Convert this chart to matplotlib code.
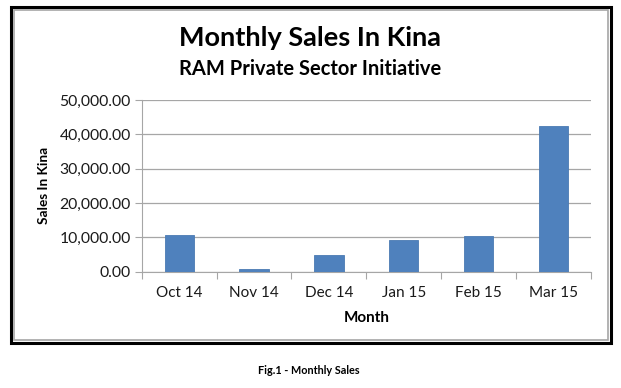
import matplotlib.pyplot as plt
from matplotlib.patches import Rectangle
from matplotlib.ticker import FuncFormatter

meses = ['Oct 14', 'Nov 14', 'Dec 14', 'Jan 15', 'Feb 15', 'Mar 15']
vendas = [10800, 850, 4850, 9150, 10400, 42300]

plt.rcParams['font.family'] = ['Lato', 'DejaVu Sans']

W, H = 621, 388
fig = plt.figure(figsize=(W / 100, H / 100), dpi=100)

# moldura dupla (preta por fora, cinza por dentro)
fig.patches.append(Rectangle((11 / W, 1 - 343 / H), 600 / W, 336 / H,
                             transform=fig.transFigure, fill=False,
                             edgecolor='black', linewidth=2.2))
fig.patches.append(Rectangle((14 / W, 1 - 340 / H), 594 / W, 330 / H,
                             transform=fig.transFigure, fill=False,
                             edgecolor='#a6a6a6', linewidth=1.2))

ax = fig.add_axes([141.7 / W, 1 - 271.7 / H, (591 - 141.7) / W, (271.7 - 100) / H])

x = list(range(len(meses)))
ax.bar(x, vendas, width=0.39, color='#4f81bd', edgecolor='#4a7ab3', linewidth=0.6, zorder=3)

ax.set_xlim(-0.5, len(meses) - 0.5)
ax.set_ylim(0, 50000)
ax.set_yticks([0, 10000, 20000, 30000, 40000, 50000])
ax.yaxis.set_major_formatter(FuncFormatter(lambda v, p: f'{v:,.2f}'))
ax.grid(axis='y', color='#a6a6a6', linewidth=0.9, zorder=0)

ax.set_xticks([i - 0.5 for i in range(len(meses) + 1)])
ax.set_xticklabels([])
ax.set_xticks(x, minor=True)
ax.set_xticklabels(meses, minor=True)
ax.tick_params(axis='x', which='major', length=5, color='#a6a6a6', direction='out')
ax.tick_params(axis='x', which='minor', length=0, labelsize=11, pad=10, labelcolor='#1a1a1a')
ax.tick_params(axis='y', length=5, color='#a6a6a6', labelsize=11.3, pad=3, labelcolor='#1a1a1a')

for s in ['top', 'right']:
    ax.spines[s].set_visible(False)
ax.spines['left'].set_color('#a6a6a6')
ax.spines['bottom'].set_color('#a6a6a6')

ax.set_xlabel('Month', fontsize=11, fontweight='bold', labelpad=8)
ax.set_ylabel('Sales In Kina', fontsize=9.8, fontweight='bold', labelpad=7)

fig.text(310 / W, 1 - 38 / H, 'Monthly Sales In Kina', ha='center', va='center',
         fontsize=19.5, fontweight='bold')
fig.text(310 / W, 1 - 69 / H, 'RAM Private Sector Initiative', ha='center', va='center',
         fontsize=14.5, fontweight='bold')
fig.text(309 / W, 1 - 371 / H, 'Fig.1 - Monthly Sales', ha='center', va='center',
         fontsize=7.8, fontweight='bold')

fig.savefig('out.png', dpi=100)
